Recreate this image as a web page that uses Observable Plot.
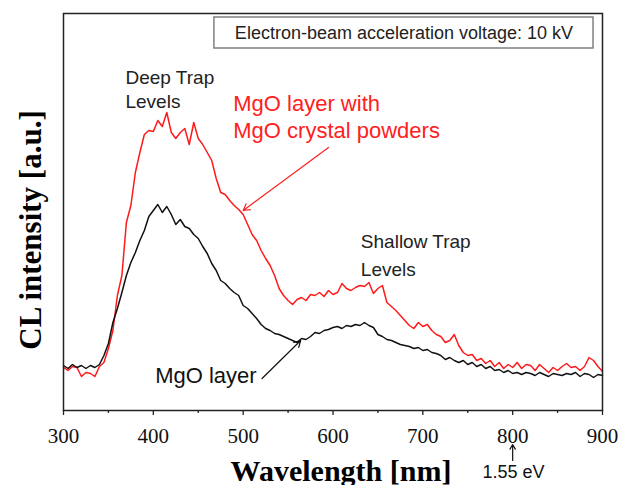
<!DOCTYPE html>
<html>
<head>
<meta charset="utf-8">
<script src="https://cdn.jsdelivr.net/npm/d3@7"></script>
<script src="https://cdn.jsdelivr.net/npm/@observablehq/plot@0.6"></script>
<style>
  html, body { margin: 0; padding: 0; background: #fff; }
  svg { display: block; }
</style>
</head>
<body>
<div id="chart"></div>
<script>
// Wavelength samples (nm)
const wavelengths = [300,305,310,315,320,325,330,335,340,345,350,355,360,365,370,375,380,385,390,395,400,405,410,415,420,425,430,435,440,445,450,455,460,465,470,475,480,485,490,495,500,505,510,515,520,525,530,535,540,545,550,555,560,565,570,575,580,585,590,595,600,605,610,615,620,625,630,635,640,645,650,655,660,665,670,675,680,685,690,695,700,705,710,715,720,725,730,735,740,745,750,755,760,765,770,775,780,785,790,795,800,805,810,815,820,825,830,835,840,845,850,855,860,865,870,875,880,885,890,895,900];

// MgO layer with MgO crystal powders (red), arbitrary units
const redValues = [43,40,44,43,34,38,37,34,44,48,62,80,115,135,188,205,238,258,276,280,279,290,284,298,278,272,278,282,266,288,272,266,258,250,232,218,216,210,205,201,196,186,176,170,160,152,145,135,122,115,110,106,111,113,110,116,115,118,114,120,116,118,127,122,120,123,125,124,128,117,122,125,108,104,100,95,90,85,82,88,84,86,80,76,74,68,70,76,65,58,55,56,50,52,47,50,44,48,42,46,43,48,42,46,45,40,46,42,38,43,40,44,47,43,44,40,44,53,50,44,39];

// MgO layer (black), arbitrary units
const blackValues = [45,42,46,43,45,42,45,43,46,55,67,88,102,118,135,148,158,170,180,194,200,206,198,204,196,186,191,184,182,176,172,164,157,147,140,130,127,122,118,115,105,102,97,92,86,82,80,77,76,74,72,70,68,72,71,74,78,77,80,81,83,84,82,85,84,86,85,88,85,83,76,74,71,70,68,66,65,64,62,63,60,61,58,57,55,51,53,50,48,50,46,48,44,46,42,44,40,41,38,40,37,38,36,38,37,35,38,36,34,37,36,35,37,36,38,34,37,36,33,36,35];

// Axis ticks
const majorTicks = [300,400,500,600,700,800,900];
const minorTicks = [350,450,550,650,750,850];

// Annotation texts
const annotationLines = [
  {text: "Deep Trap", x: 369, y: 327, color: "#222", size: 19},
  {text: "Levels", x: 369, y: 303, color: "#222", size: 19},
  {text: "MgO layer with", x: 489, y: 300, color: "#ff2020", size: 22},
  {text: "MgO crystal powders", x: 489, y: 273, color: "#ff2020", size: 22},
  {text: "Shallow Trap", x: 631, y: 163, color: "#222", size: 19},
  {text: "Levels", x: 631, y: 135, color: "#222", size: 19},
  {text: "MgO layer", x: 402, y: 28, color: "#111", size: 22}
];
const annotationArrows = [
  {x1: 595, y1: 263, x2: 500, y2: 200, color: "#ff2020"},
  {x1: 521, y1: 32, x2: 564, y2: 70, color: "#111"},
  {x1: 800, y1: -50, x2: 800, y2: -34, color: "#111"}
];
const voltageBox = [{x1: 468, x2: 890, y1: 362, y2: 393}];
const voltageText = [{text: "Electron-beam acceleration voltage: 10 kV", x: 679, y: 372}];
const evLabel = [{text: "1.55 eV", x: 801, y: -67}];

const SANS = "'Liberation Sans', Arial, sans-serif";
const SERIF = "'Liberation Serif', 'Times New Roman', serif";

const redRows = wavelengths.map((w, i) => ({w, v: redValues[i]}));
const blackRows = wavelengths.map((w, i) => ({w, v: blackValues[i]}));

const chart = Plot.plot({
  width: 620,
  height: 485,
  marginLeft: 63,
  marginRight: 18,
  marginTop: 13,
  marginBottom: 75,
  style: {background: "#fff", fontFamily: SERIF, fontSize: "21px", color: "#111"},
  x: {domain: [300, 900]},
  y: {domain: [0, 397], axis: null},
  marks: [
    Plot.rect(voltageBox, {x1: "x1", x2: "x2", y1: "y1", y2: "y2", fill: "#fff", stroke: "#808080", strokeWidth: 1.5}),
    Plot.text(voltageText, {x: "x", y: "y", text: "text", textAnchor: "middle", lineAnchor: "bottom", fontSize: 18, fontFamily: SANS, fill: "#222"}),
    Plot.line(redRows, {x: "w", y: "v", stroke: "#ff1a1a", strokeWidth: 1.5}),
    Plot.line(blackRows, {x: "w", y: "v", stroke: "#111", strokeWidth: 1.5}),
    Plot.text(annotationLines, {x: "x", y: "y", text: "text", fill: "color", fontSize: d => d.size, textAnchor: "start", lineAnchor: "bottom", fontFamily: SANS}),
    Plot.arrow(annotationArrows, {x1: "x1", y1: "y1", x2: "x2", y2: "y2", stroke: "color", strokeWidth: 1.2, headLength: 9}),
    Plot.text(evLabel, {x: "x", y: "y", text: "text", textAnchor: "middle", lineAnchor: "bottom", fontSize: 18, fontFamily: SANS, fill: "#111"}),
    Plot.axisX({ticks: majorTicks, tickSize: 5, text: null, stroke: "#222", strokeWidth: 1.3, label: null}),
    Plot.axisX({ticks: minorTicks, tickSize: 3, text: null, stroke: "#222", strokeWidth: 1.3, label: null}),
    Plot.text(majorTicks, {x: d => d, text: d => String(d), frameAnchor: "bottom", dy: 32, lineAnchor: "bottom", textAnchor: "middle", fontSize: 21, fontFamily: SERIF, fill: "#111"}),
    Plot.frame({stroke: "#222", strokeWidth: 1.5}),
    Plot.text(["Wavelength [nm]"], {frameAnchor: "bottom", dx: 8, dy: 70, lineAnchor: "bottom", fontSize: 30, fontWeight: "bold", fontFamily: SERIF, fill: "#000"}),
    Plot.text(["CL intensity [a.u.]"], {frameAnchor: "left", dx: -23, dy: 18, rotate: -90, lineAnchor: "bottom", textAnchor: "middle", fontSize: 31, fontWeight: "bold", fontFamily: SERIF, fill: "#000"})
  ]
});
document.getElementById("chart").appendChild(chart);
</script>
</body>
</html>
